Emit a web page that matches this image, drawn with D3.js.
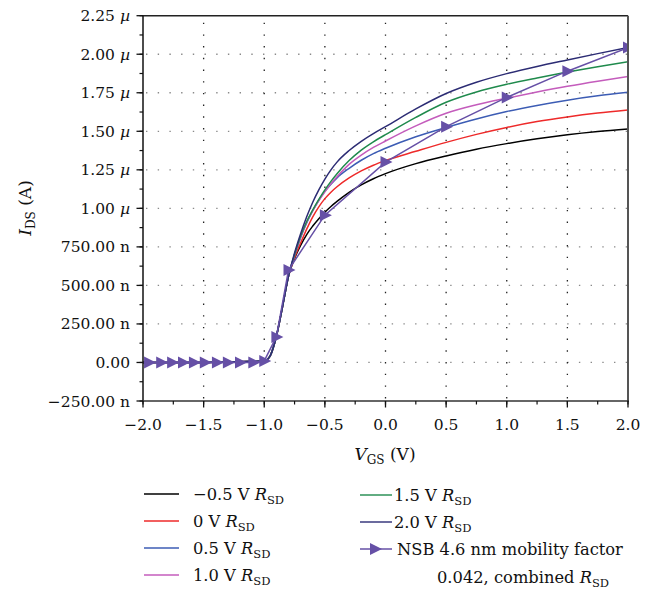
<!DOCTYPE html>
<html><head><meta charset="utf-8">
<script src="https://cdn.jsdelivr.net/npm/d3@7"></script>
<style>body{margin:0;background:#fff}svg{display:block}text{font-family:"DejaVu Serif",serif;fill:#111}</style>
</head><body><svg id="c" width="660" height="590"></svg>
<script>
// ---- data (currents in µA) ----
const vgs = [-2.0,-1.5,-1.0,-0.95,-0.9,-0.85,-0.8,-0.75,-0.7,-0.65,-0.6,-0.55,-0.5,-0.45,-0.4,-0.3,-0.2,-0.1,0,0.25,0.5,0.75,1.0,1.25,1.5,1.75,2.0];
const seriesNames = ["−0.5 V","0 V","0.5 V","1.0 V","1.5 V","2.0 V"];
const seriesColors = ["#000000","#ee2a2a","#3c5cb4","#c45cbc","#1f8a4c","#2c2c74"];
const iM05 = [0,0,0.01,0.045,0.17,0.36,0.56,0.675,0.76,0.83,0.885,0.933,0.975,1.012,1.045,1.104,1.152,1.192,1.225,1.29,1.34,1.384,1.42,1.451,1.477,1.498,1.515];
const i0   = [0,0,0.01,0.045,0.17,0.36,0.56,0.68,0.775,0.865,0.945,1.01,1.063,1.105,1.14,1.197,1.243,1.28,1.31,1.37,1.428,1.48,1.525,1.563,1.593,1.618,1.638];
const i05  = [0,0,0.01,0.045,0.17,0.36,0.56,0.695,0.81,0.905,0.985,1.052,1.11,1.157,1.198,1.26,1.312,1.355,1.39,1.465,1.525,1.58,1.628,1.668,1.702,1.73,1.753];
const i10  = [0,0,0.01,0.045,0.17,0.36,0.56,0.70,0.815,0.91,0.985,1.05,1.108,1.16,1.205,1.285,1.345,1.395,1.437,1.535,1.617,1.672,1.715,1.755,1.792,1.825,1.855];
const i15  = [0,0,0.01,0.045,0.17,0.36,0.56,0.70,0.82,0.915,0.99,1.058,1.12,1.175,1.225,1.31,1.378,1.432,1.478,1.59,1.688,1.755,1.805,1.846,1.884,1.919,1.952];
const i20  = [0,0,0.01,0.045,0.17,0.36,0.56,0.71,0.835,0.945,1.04,1.12,1.19,1.25,1.30,1.375,1.435,1.485,1.53,1.645,1.745,1.818,1.874,1.921,1.963,2.004,2.043];
const nsbV = [-1.95,-1.85,-1.76,-1.67,-1.58,-1.49,-1.39,-1.30,-1.20,-1.09,-1.0,-0.9,-0.8,-0.5,0,0.5,1.0,1.5,2.0];
const nsbI = [0,0,0,0,0,0,0,0,0,0,0.01,0.166,0.60,0.956,1.30,1.53,1.72,1.89,2.043];
const yTicks = [-0.25,0,0.25,0.5,0.75,1.0,1.25,1.5,1.75,2.0,2.25];
const yTickLabels = ["−250.00 n","0.00","250.00 n","500.00 n","750.00 n","1.00 µ","1.25 µ","1.50 µ","1.75 µ","2.00 µ","2.25 µ"];
const xTicks = [-2.0,-1.5,-1.0,-0.5,0,0.5,1.0,1.5,2.0];
const xTickLabels = ["−2.0","−1.5","−1.0","−0.5","0.0","0.5","1.0","1.5","2.0"];
const nsbName1 = "NSB 4.6 nm mobility factor";
const nsbName2 = "0.042, combined ";

const curves = [iM05,i0,i05,i10,i15,i20];

const svg = d3.select("#c");
const L=143,R=628,T=15.7,B=401;
const x = d3.scaleLinear().domain([-2,2]).range([L,R]);
const y = d3.scaleLinear().domain([-0.25,2.25]).range([B,T]);

svg.append("defs").append("clipPath").attr("id","pc").append("rect")
  .attr("x",L).attr("y",T).attr("width",R-L).attr("height",B-T);

// grid
const g = svg.append("g");
g.selectAll(".hg").data(yTicks.filter(v=>v>-0.25&&v<2.25)).join("line")
  .attr("x1",L+3).attr("x2",R).attr("y1",d=>y(d)).attr("y2",d=>y(d))
  .attr("stroke","#8a8a8a").attr("stroke-width",1.3).attr("stroke-dasharray","1.4,10.3");
g.selectAll(".vg").data(xTicks.filter(v=>v>-2&&v<2)).join("line")
  .attr("x1",d=>x(d)).attr("x2",d=>x(d)).attr("y1",T+7).attr("y2",B)
  .attr("stroke","#222").attr("stroke-width",1.3).attr("stroke-dasharray","1.4,10.3");

// curves
const line = d3.line().x((d,i)=>x(vgs[i])).y(d=>y(d)).curve(d3.curveMonotoneX);
const cg = svg.append("g").attr("clip-path","url(#pc)");
curves.forEach((c,k)=>{
  cg.append("path").datum(c).attr("d",line).attr("fill","none")
    .attr("stroke",seriesColors[k]).attr("stroke-width",1.5);
});
const purple="#6650a6";
const nsbData = nsbV.map((v,i)=>[v,nsbI[i]]);
cg.append("path").datum([[-2.0,0]].concat(nsbData)).attr("d",d3.line().x(d=>x(d[0])).y(d=>y(d[1])))
  .attr("fill","none").attr("stroke",purple).attr("stroke-width",1.5);
const tri = "M-5,-6L7,0L-5,6Z";
cg.selectAll(".mk").data(nsbData).join("path")
  .attr("d",tri).attr("transform",d=>`translate(${x(d[0])},${y(d[1])})`)
  .attr("fill",purple);

// frame
svg.append("line").attr("x1",L).attr("x2",R).attr("y1",T).attr("y2",T).attr("stroke","#222").attr("stroke-width",1.5);
svg.append("line").attr("x1",R).attr("x2",R).attr("y1",T).attr("y2",B).attr("stroke","#555").attr("stroke-width",2);
svg.append("line").attr("x1",L).attr("x2",L).attr("y1",T).attr("y2",B+0.7).attr("stroke","#111").attr("stroke-width",1.5);
svg.append("line").attr("x1",L).attr("x2",R+1).attr("y1",B).attr("y2",B).attr("stroke","#333").attr("stroke-width",1.5);

// y ticks
const yMinor = d3.range(-0.25,2.26,0.125);
svg.selectAll(".ymt").data(yMinor).join("line")
  .attr("x1",L-3.5).attr("x2",L).attr("y1",d=>y(d)).attr("y2",d=>y(d)).attr("stroke","#111").attr("stroke-width",1.2);
svg.selectAll(".yMt").data(yTicks).join("line")
  .attr("x1",L-6.5).attr("x2",L).attr("y1",d=>y(d)).attr("y2",d=>y(d)).attr("stroke","#111").attr("stroke-width",1.3);
const ylab = svg.selectAll(".yl").data(yTicks).join("text")
  .attr("x",L-13).attr("y",d=>y(d)+5.5).attr("text-anchor","end").attr("font-size",15.5);
ylab.each(function(d,i){
  const t=yTickLabels[i]; const s=d3.select(this);
  const parts=t.split(" ");
  s.append("tspan").text(parts[0]);
  if(parts[1]){
    s.append("tspan").attr("font-style", parts[1]==="µ"?"italic":"normal").text(" "+parts[1]);
  }
});

// x ticks
const xMinor = d3.range(-2,2.01,0.25);
svg.selectAll(".xmt").data(xMinor).join("line")
  .attr("x1",d=>x(d)).attr("x2",d=>x(d)).attr("y1",B).attr("y2",B+3.5).attr("stroke","#111").attr("stroke-width",1.2);
svg.selectAll(".xMt").data(xTicks).join("line")
  .attr("x1",d=>x(d)).attr("x2",d=>x(d)).attr("y1",B).attr("y2",B+6.5).attr("stroke","#111").attr("stroke-width",1.3);
svg.selectAll(".xl").data(xTicks).join("text")
  .attr("x",d=>x(d)).attr("y",429.5).attr("text-anchor","middle").attr("font-size",15.5)
  .text((d,i)=>xTickLabels[i]);

// axis titles
const xt = svg.append("text").attr("x",385).attr("y",460).attr("text-anchor","middle").attr("font-size",17);
xt.append("tspan").attr("font-style","italic").text("V");
xt.append("tspan").attr("font-size",12).attr("dy",4).text("GS");
xt.append("tspan").attr("dy",-4).text(" (V)");
const yt = svg.append("text").attr("transform","translate(31,208) rotate(-90)").attr("text-anchor","middle").attr("font-size",17);
yt.append("tspan").attr("font-style","italic").text("I");
yt.append("tspan").attr("font-size",12).attr("dy",4).text("DS");
yt.append("tspan").attr("dy",-4).text(" (A)");

// legend
const LF = 16.3;
const leg = [
  {k:0,x1:144,x2:179,tx:193,y:494},
  {k:1,x1:144,x2:179,tx:193,y:521},
  {k:2,x1:144,x2:179,tx:193,y:548},
  {k:3,x1:144,x2:179,tx:193,y:575},
  {k:4,x1:360,x2:392,tx:394,y:495},
  {k:5,x1:360,x2:392,tx:394,y:522}
];
leg.forEach(o=>{
  svg.append("line").attr("x1",o.x1).attr("x2",o.x2).attr("y1",o.y).attr("y2",o.y)
    .attr("stroke",seriesColors[o.k]).attr("stroke-width",1.4);
  const t = svg.append("text").attr("x",o.tx).attr("y",o.y+6).attr("font-size",LF);
  t.append("tspan").text(seriesNames[o.k]+" ");
  t.append("tspan").attr("font-style","italic").text("R");
  t.append("tspan").attr("font-size",11.5).attr("dy",3.5).text("SD");
});
svg.append("line").attr("x1",360).attr("x2",392).attr("y1",549).attr("y2",549).attr("stroke",purple).attr("stroke-width",1.5);
svg.append("path").attr("d",tri).attr("transform","translate(375,549)").attr("fill",purple);
svg.append("text").attr("x",397).attr("y",555).attr("font-size",LF).text(nsbName1);
const t2 = svg.append("text").attr("x",437).attr("y",583).attr("font-size",LF);
t2.append("tspan").text(nsbName2);
t2.append("tspan").attr("font-style","italic").text("R");
t2.append("tspan").attr("font-size",11.5).attr("dy",3.5).text("SD");
</script></body></html>
